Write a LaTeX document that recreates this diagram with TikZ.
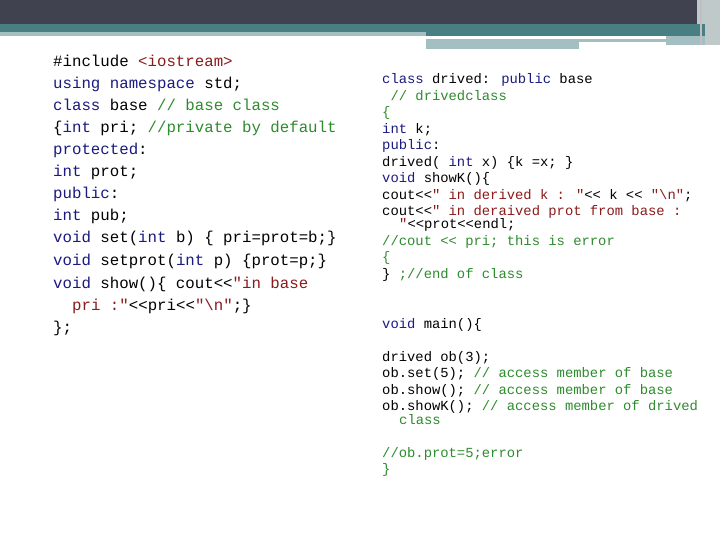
\documentclass[tikz,border=0pt]{standalone}
\usepackage{fontspec}
\newfontfamily\code{Liberation Mono}
\definecolor{kw}{HTML}{1A1A80}
\definecolor{st}{HTML}{8B1A1A}
\definecolor{cm}{HTML}{2E8B2E}
\definecolor{dark}{HTML}{41424F}
\definecolor{teal}{HTML}{487F83}
\definecolor{lite}{HTML}{A3BFC1}
\newcommand\K[1]{\textcolor{kw}{#1}}
\newcommand\Str[1]{\textcolor{st}{#1}}
\newcommand\C[1]{\textcolor{cm}{#1}}
\tikzset{L/.style={anchor=base west,inner sep=0pt,font=\code\fontsize{15.8}{18}\selectfont},
R/.style={anchor=base west,inner sep=0pt,font=\code\fontsize{13.9}{16}\selectfont}}
\begin{document}
\begin{tikzpicture}[x=1bp,y=-1bp]
\useasboundingbox (0,0) rectangle (720,540);
\fill[white] (0,0) rectangle (720,540);
\fill[dark] (0,0) rectangle (705,24);
\fill[lite!60!gray!60] (697,0) rectangle (720,45);
\fill[teal] (0,24) rectangle (705,36);
\fill[lite] (0,32) rectangle (426,36);
\fill[lite] (426,39) rectangle (579,49);
\fill[lite] (579,39) rectangle (666,42);
\fill[lite] (666,36) rectangle (705,45);
\fill[gray!50] (700,0) rectangle (702,45);
% left
\node[L] (l1) at (53,67) {\#include \Str{<iostream>}};
\node[L] (l2) at (53,89) {\K{using namespace} std;};
\node[L] (l3) at (53,111) {\K{class} base \C{// base class}};
\node[L] (l4) at (53,133) {\{\K{int} pri; \C{//private by default}};
\node[L] (l5) at (53,155) {\K{protected}:};
\node[L] (l6) at (53,177) {\K{int} prot;};
\node[L] (l7) at (53,199) {\K{public}:};
\node[L] (l8) at (53,221) {\K{int} pub;};
\node[L] (l9) at (53,243) {\K{void} set(\K{int} b) \{ pri=prot=b;\}};
\node[L] (l10) at (53,266) {\K{void} setprot(\K{int} p) \{prot=p;\}};
\node[L] (l11) at (53,288) {\K{void} show()\{ cout<<\Str{"in base}};
\node[L] (l12) at (72,310) {\Str{pri :"}<<pri<<\Str{"\textbackslash n"};\}};
\node[L] (l13) at (53,332) {\};};
% right
\node[R] (r1) at (382,84) {\K{class} drived: \K{public} base};
\node[R] (r2) at (382,101) {\ \C{// drivedclass}};
\node[R] (r3) at (382,117) {\C{\{}};
\node[R] (r4) at (382,134) {\K{int} k;};
\node[R] (r5) at (382,150) {\K{public}:};
\node[R] (r6) at (382,167) {drived( \K{int} x) \{k =x; \}};
\node[R] (r7) at (382,183) {\K{void} showK()\{};
\node[R] (r8) at (382,200) {cout<<\Str{" in derived k : "}<< k << \Str{"\textbackslash n"};};
\node[R] (r9) at (382,216) {cout<<\Str{" in deraived prot from base :}};
\node[R] (r10) at (399,229) {\Str{"}<<prot<<endl;};
\node[R] (r11) at (382,246) {\C{//cout << pri; this is error}};
\node[R] (r12) at (382,262) {\C{\{}};
\node[R] (r13) at (382,279) {\} \C{;//end of class}};
\node[R] (r14) at (382,328) {\K{void} main()\{};
\node[R] (r15) at (382,361) {drived ob(3);};
\node[R] (r16) at (382,377) {ob.set(5); \C{// access member of base}};
\node[R] (r17) at (382,394) {ob.show(); \C{// access member of base}};
\node[R] (r18) at (382,410) {ob.showK(); \C{// access member of drived}};
\node[R] (r19) at (399,424) {\C{class}};
\node[R] (r20) at (382,457) {\C{//ob.prot=5;error}};
\node[R] (r21) at (382,473) {\C{\}}};
\end{tikzpicture}
\end{document}
